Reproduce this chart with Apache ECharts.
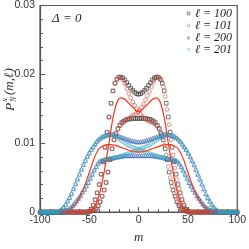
<!DOCTYPE html>
<html><head><meta charset="utf-8">
<script src="https://cdn.jsdelivr.net/npm/echarts@6/dist/echarts.min.js"></script>
<style>html,body{margin:0;padding:0;background:#fff}#c{width:249px;height:249px}</style>
</head><body><div id="c"></div>
<script>
// ---- data ----
const seriesNames = ['ℓ = 100', 'ℓ = 101', 'ℓ = 200', 'ℓ = 201'];
const xTickValues = [-100, -50, 0, 50, 100];
const yTickValues = [0, 0.01, 0.02, 0.03];

// l = 100 : even m (-50..50), odd m (-49..49)
const l100EvenStart = -50;
const l100Even = [0.0001,0.0004,0.0010,0.0018,0.0028,0.0040,0.0055,0.0073,0.0094,0.0116,0.0138,0.0158,0.0176,0.0187,0.0193,0.0196,0.0196,0.0195,0.0192,0.0188,0.0184,0.0180,0.0177,0.0174,0.0172,
  0.0171,
  0.0172,0.0174,0.0177,0.0180,0.0184,0.0188,0.0192,0.0195,0.0196,0.0196,0.0193,0.0187,0.0176,0.0158,0.0138,0.0116,0.0094,0.0073,0.0055,0.0040,0.0028,0.0018,0.0010,0.0004,0.0001];
const l100OddStart = -49;
const l100Odd = [0.0001,0.0002,0.0003,0.0005,0.0009,0.0015,0.0023,0.0032,0.0043,0.0058,0.0076,0.0092,0.0105,0.0114,0.0121,0.0126,0.0130,0.0132,0.0134,0.0135,0.0135,0.0136,0.0136,0.0136,0.0136,
  0.0136,0.0136,0.0136,0.0136,0.0135,0.0135,0.0134,0.0132,0.0130,0.0126,0.0121,0.0114,0.0105,0.0092,0.0076,0.0058,0.0043,0.0032,0.0023,0.0015,0.0009,0.0005,0.0003,0.0002,0.0001];

// l = 101
const l101EvenStart = -50;
const l101Even = [0.0001,0.0004,0.0010,0.0018,0.0028,0.0040,0.0055,0.0073,0.0094,0.0116,0.0138,0.0158,0.0176,0.0187,0.0193,0.0196,0.0195,0.0192,0.0186,0.0179,0.0172,0.0166,0.0160,0.0155,0.0150,
  0.0146,
  0.0142,0.0139,0.0136,0.0134,0.0132,0.0131,0.0130,0.0128,0.0126,0.0122,0.0116,0.0108,0.0097,0.0083,0.0066,0.0050,0.0037,0.0027,0.0019,0.0012,0.0007,0.0004,0.0002,0.0001,0];
const l101OddStart = -49;
const l101Odd = [0.0001,0.0002,0.0003,0.0005,0.0009,0.0015,0.0023,0.0032,0.0043,0.0058,0.0076,0.0092,0.0105,0.0114,0.0121,0.0126,0.0129,0.0131,0.0133,0.0135,0.0137,0.0139,0.0141,0.0143,0.0145,
  0.0148,0.0152,0.0157,0.0163,0.0169,0.0175,0.0182,0.0189,0.0194,0.0196,0.0195,0.0191,0.0182,0.0168,0.0149,0.0127,0.0105,0.0083,0.0064,0.0047,0.0034,0.0023,0.0014,0.0007,0.0002];

// l = 200 : even m (-80..80), odd m (-79..79)
const l200EvenStart = -80;
const l200Even = [0.0002,0.0004,0.0007,0.0011,0.0016,0.0021,0.0027,0.0034,0.0041,0.0048,0.0055,0.0062,0.0069,0.0075,0.0081,0.0086,0.0091,0.0095,0.0099,0.0103,
  0.0106,0.0108,0.0110,0.0111,0.0112,0.0113,0.0113,0.0113,0.0112,0.0111,0.0110,0.0109,0.0108,0.0107,0.0106,0.0105,0.0104,0.0103,0.0103,0.0102,
  0.0102,
  0.0102,0.0103,0.0103,0.0104,0.0105,0.0106,0.0107,0.0108,0.0109,0.0110,0.0111,0.0112,0.0113,0.0113,0.0113,0.0112,0.0111,0.0110,0.0108,0.0106,
  0.0103,0.0099,0.0095,0.0091,0.0086,0.0081,0.0075,0.0069,0.0062,0.0055,0.0048,0.0041,0.0034,0.0027,0.0021,0.0016,0.0011,0.0007,0.0004,0.0002];
const l200OddStart = -79;
const l200Odd = [0.0001,0.0001,0.0002,0.0003,0.0004,0.0006,0.0009,0.0012,0.0016,0.0020,0.0024,0.0029,0.0033,0.0038,0.0043,0.0049,0.0055,0.0061,0.0066,0.0071,
  0.0074,0.0075,0.0076,0.0077,0.0077,0.0078,0.0078,0.0079,0.0080,0.0080,0.0081,0.0081,0.0082,0.0082,0.0082,0.0082,0.0082,0.0082,0.0082,0.0082,
  0.0082,0.0082,0.0082,0.0082,0.0082,0.0082,0.0082,0.0082,0.0081,0.0081,0.0080,0.0080,0.0079,0.0078,0.0078,0.0077,0.0077,0.0076,0.0075,0.0074,
  0.0071,0.0066,0.0061,0.0055,0.0049,0.0043,0.0038,0.0033,0.0029,0.0024,0.0020,0.0016,0.0012,0.0009,0.0006,0.0004,0.0003,0.0002,0.0001,0.0001];

// l = 201
const l201EvenStart = -80;
const l201Even = [0.0002,0.0004,0.0007,0.0011,0.0016,0.0021,0.0027,0.0034,0.0041,0.0048,0.0055,0.0062,0.0069,0.0075,0.0081,0.0086,0.0091,0.0095,0.0099,0.0103,
  0.0106,0.0108,0.0110,0.0111,0.0112,0.0112,0.0112,0.0111,0.0110,0.0108,0.0106,0.0104,0.0102,0.0100,0.0098,0.0097,0.0095,0.0094,0.0093,0.0092,
  0.0091,
  0.0090,0.0089,0.0088,0.0087,0.0086,0.0085,0.0084,0.0083,0.0082,0.0081,0.0080,0.0080,0.0079,0.0078,0.0078,0.0077,0.0077,0.0076,0.0075,0.0073,
  0.0069,0.0064,0.0058,0.0052,0.0046,0.0041,0.0036,0.0031,0.0027,0.0022,0.0018,0.0014,0.0010,0.0007,0.0005,0.0003,0.0002,0.0001,0.0001,0];
const l201OddStart = -79;
const l201Odd = [0.0001,0.0001,0.0002,0.0003,0.0004,0.0006,0.0009,0.0012,0.0016,0.0020,0.0024,0.0029,0.0033,0.0038,0.0043,0.0049,0.0055,0.0061,0.0066,0.0071,
  0.0074,0.0075,0.0076,0.0077,0.0077,0.0078,0.0078,0.0079,0.0080,0.0080,0.0081,0.0082,0.0083,0.0084,0.0085,0.0086,0.0087,0.0088,0.0089,0.0090,
  0.0092,0.0093,0.0094,0.0095,0.0096,0.0097,0.0099,0.0101,0.0103,0.0105,0.0107,0.0109,0.0110,0.0111,0.0112,0.0112,0.0112,0.0111,0.0109,0.0107,
  0.0104,0.0101,0.0097,0.0093,0.0089,0.0084,0.0078,0.0072,0.0066,0.0059,0.0052,0.0045,0.0038,0.0031,0.0024,0.0019,0.0014,0.0009,0.0006,0.0003];

// red solid curves
const curveAStart = -50, curveAStep = 2;
const curveA = [0,0.0002,0.0005,0.0010,0.0016,0.0025,0.0036,0.0050,0.0066,0.0083,0.0101,0.0120,0.0137,0.0150,0.0159,0.0164,0.0166,0.0165,0.0164,0.0161,0.0158,0.0155,0.0152,0.0149,0.0147,
  0.0146,
  0.0147,0.0149,0.0152,0.0155,0.0158,0.0161,0.0164,0.0165,0.0166,0.0164,0.0159,0.0150,0.0137,0.0120,0.0101,0.0083,0.0066,0.0050,0.0036,0.0025,0.0016,0.0010,0.0005,0.0002,0];
const curveBStart = -80, curveBStep = 4;
const curveB = [0,0.0001,0.0002,0.0006,0.0012,0.0021,0.0034,0.0049,0.0066,0.0082,0.0092,0.0096,0.0098,0.0098,0.0097,0.0095,0.0093,0.0091,0.0089,0.0088,
  0.0087,
  0.0088,0.0089,0.0091,0.0093,0.0095,0.0097,0.0098,0.0098,0.0096,0.0092,0.0082,0.0066,0.0049,0.0034,0.0021,0.0012,0.0006,0.0002,0.0001,0];

// ---- build ----
function pairs(start, step, arr) { return arr.map((v, i) => [start + step * i, v]); }
function buildMarkers(es, ea, os, oa) {
  const pts = pairs(es, 2, ea).concat(pairs(os, 2, oa));
  const have = new Set(pts.map(p => p[0]));
  for (let m = -100; m <= 100; m++) if (!have.has(m)) pts.push([m, 0]);
  pts.sort((a, b) => a[0] - b[0]);
  return pts;
}
const markerData = [
  buildMarkers(l100EvenStart, l100Even, l100OddStart, l100Odd),
  buildMarkers(l101EvenStart, l101Even, l101OddStart, l101Odd),
  buildMarkers(l200EvenStart, l200Even, l200OddStart, l200Odd),
  buildMarkers(l201EvenStart, l201Even, l201OddStart, l201Odd)
];
const colors = ['#2b2b2b', '#cc5547', '#2f63b3', '#35a6b8'];
const symbols = ['rect', 'circle', 'triangle', 'diamond'];
const sizes = [3.6, 3.8, 4, 4.2];

const serif = 'Liberation Serif';
const sans = 'Liberation Sans';
const axisColor = '#555';

const series = markerData.map((d, i) => ({
  name: seriesNames[i], type: 'scatter', data: d, symbol: symbols[i], symbolSize: sizes[i],
  itemStyle: { color: 'rgba(0,0,0,0)', borderColor: colors[i], borderWidth: 0.8 },
  z: 2 + i
}));
[[curveAStart, curveAStep, curveA], [curveBStart, curveBStep, curveB]].forEach(([s, st, a]) => {
  series.push({ type: 'line', data: pairs(s, st, a), smooth: 0.4, showSymbol: false, symbol: 'none',
    lineStyle: { color: '#ff3318', width: 1.2 }, z: 10 });
});

const chart = echarts.init(document.getElementById('c'), null, { renderer: 'canvas' });
chart.setOption({
  animation: false,
  grid: { left: 40, right: 9, top: 5, bottom: 30, show: true, borderColor: axisColor, borderWidth: 1.2, backgroundColor: 'transparent' },
  xAxis: {
    type: 'value', min: xTickValues[0], max: xTickValues[xTickValues.length - 1], interval: 50,
    axisLine: { show: true, onZero: false, lineStyle: { color: axisColor, width: 1.2 } },
    axisTick: { show: true, inside: true, length: 5, lineStyle: { color: axisColor } },
    minorTick: { show: true, splitNumber: 5, length: 3, lineStyle: { color: axisColor } },
    splitLine: { show: false },
    axisLabel: { color: '#333', fontSize: 10.5, fontFamily: sans, margin: 3 },
    name: 'm', nameLocation: 'middle', nameGap: 12,
    nameTextStyle: { fontFamily: serif, fontStyle: 'italic', fontSize: 13, color: '#333' }
  },
  yAxis: {
    type: 'value', min: yTickValues[0], max: yTickValues[yTickValues.length - 1], interval: 0.01,
    axisLine: { show: true, onZero: false, lineStyle: { color: axisColor, width: 1.2 } },
    axisTick: { show: true, inside: true, length: 5, lineStyle: { color: axisColor } },
    minorTick: { show: true, splitNumber: 5, length: 3, lineStyle: { color: axisColor } },
    splitLine: { show: false },
    axisLabel: { color: '#333', fontSize: 10.5, fontFamily: sans, margin: 5 }
  },
  legend: {
    data: seriesNames.map((n, i) => ({ name: n, icon: symbols[i],
      itemStyle: { color: 'rgba(0,0,0,0)', borderColor: colors[i], borderWidth: 0.7 } })),
    orient: 'vertical', right: 17, top: 7.5, padding: 0,
    itemWidth: 2.8, itemHeight: 2.8, itemGap: 0, itemTextGap: 7, selectedMode: false,
    textStyle: { fontFamily: serif, fontStyle: 'italic', fontSize: 12, color: '#222', lineHeight: 11.2 }
  },
  graphic: [
    { type: 'text', x: 52, y: 19, style: { text: 'Δ = 0', fontFamily: serif, fontStyle: 'italic', fontSize: 13, fill: '#222', verticalAlign: 'middle' } },
    { type: 'group', x: 10, y: 111, rotation: Math.PI / 2, children: [
      { type: 'text', x: 0, y: 0, style: { text: 'P', fontFamily: serif, fontStyle: 'italic', fontSize: 13.5, fill: '#333', verticalAlign: 'middle' } },
      { type: 'text', x: 9, y: -5, style: { text: 'x', fontFamily: serif, fontStyle: 'italic', fontSize: 9, fill: '#333', verticalAlign: 'middle' } },
      { type: 'text', x: 9, y: 4, style: { text: 'N', fontFamily: serif, fontStyle: 'italic', fontSize: 8, fill: '#333', verticalAlign: 'middle' } },
      { type: 'text', x: 16, y: 0, style: { text: '(m,ℓ)', fontFamily: serif, fontStyle: 'italic', fontSize: 13, fill: '#333', verticalAlign: 'middle' } }
    ] }
  ],
  series: series
});
</script></body></html>
